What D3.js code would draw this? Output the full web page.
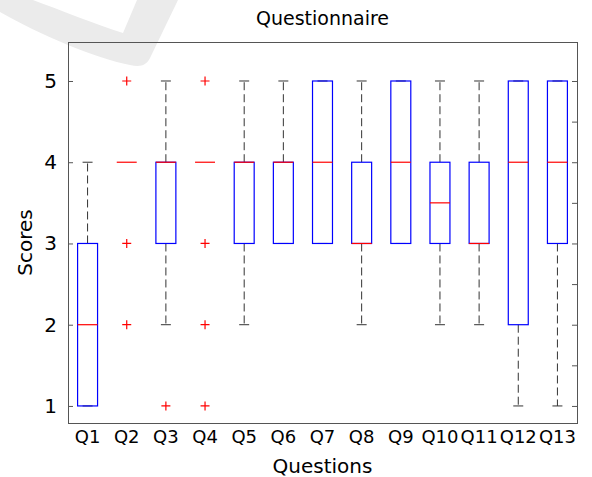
<!DOCTYPE html>
<html>
<head>
<meta charset="utf-8">
<script src="https://cdn.jsdelivr.net/npm/d3@7"></script>
<style>
  body { margin: 0; background: #fff; }
  text { font-family: "DejaVu Sans", sans-serif; fill: #000; }
</style>
</head>
<body>
<svg id="chart" width="592" height="477"></svg>
<script>
// box plot summary per question
const questions = ["Q1","Q2","Q3","Q4","Q5","Q6","Q7","Q8","Q9","Q10","Q11","Q12","Q13"];
const whiskerLow  = [1, 4, 2, 4, 2, 3, 3, 2, 3, 2, 2, 1, 1];
const boxLow      = [1, 4, 3, 4, 3, 3, 3, 3, 3, 3, 3, 2, 3];
const medians     = [2, 4, 4, 4, 4, 4, 4, 3, 4, 3.5, 3, 4, 4];
const boxHigh     = [3, 4, 4, 4, 4, 4, 5, 4, 5, 4, 4, 5, 5];
const whiskerHigh = [4, 4, 5, 4, 5, 5, 5, 5, 5, 5, 5, 5, 5];
const outliers    = [[], [5, 3, 2], [1], [5, 3, 2, 1], [], [], [], [], [], [], [], [], []];
const yTicks = [1, 2, 3, 4, 5];
const yMinorTicks = [1, 1.5, 2, 2.5, 3, 3.5, 4, 4.5, 5];

const margin = { top: 42, right: 15, bottom: 54, left: 68 };
const svg = d3.select("#chart");
const width = +svg.attr("width") - margin.left - margin.right;
const height = +svg.attr("height") - margin.top - margin.bottom;

const data = questions.map((q, i) => ({
    q: q, lo: whiskerLow[i], q1: boxLow[i], med: medians[i],
    q3: boxHigh[i], hi: whiskerHigh[i], out: outliers[i]
}));

// faint watermark stroke behind everything
svg.append("path")
    .attr("d", "M0,0 L33,0 C60,10 95,24 123,33 L137,0 L178,0 L150,58 C146,66 140,67 130,65 C95,58 40,35 0,12 Z")
    .attr("fill", "#ebebeb");

const g = svg.append("g")
    .attr("transform", "translate(" + margin.left + "," + margin.top + ")");

const x = d3.scaleBand().domain(questions).range([0, width]);
const y = d3.scaleLinear().domain([0.79, 5.48]).range([height, 0]);
const boxW = x.bandwidth() * 0.51;
const capW = boxW / 2;

// frame
g.append("rect")
    .attr("x", 0).attr("y", 0)
    .attr("width", width).attr("height", height)
    .attr("fill", "none")
    .attr("stroke", "#555")
    .attr("shape-rendering", "crispEdges");

// left axis
const yAxis = g.append("g")
    .call(d3.axisLeft(y).tickValues(yTicks).tickFormat(d3.format("d")).tickSizeInner(-5).tickSizeOuter(0).tickPadding(11));
yAxis.select(".domain").attr("stroke", "#555");
yAxis.selectAll(".tick line").attr("stroke", "#555");
yAxis.selectAll("text").style("font-family", "DejaVu Sans").style("font-size", "20px").attr("fill", "#000");

// right axis, ticks only
const yAxisR = g.append("g")
    .attr("transform", "translate(" + width + ",0)")
    .call(d3.axisRight(y).tickValues(yMinorTicks).tickFormat("").tickSizeInner(-5).tickSizeOuter(0));
yAxisR.select(".domain").attr("stroke", "#555");
yAxisR.selectAll(".tick line").attr("stroke", "#555");

// bottom axis, labels only
const xAxis = g.append("g")
    .attr("transform", "translate(0," + height + ")")
    .call(d3.axisBottom(x).tickSize(0).tickPadding(7));
xAxis.select(".domain").attr("stroke", "#555");
xAxis.selectAll("text").style("font-family", "DejaVu Sans").style("font-size", "18px").attr("fill", "#000");

// one group per question
const boxes = g.selectAll(".box")
    .data(data)
    .enter().append("g")
    .attr("class", "box")
    .attr("transform", d => "translate(" + (x(d.q) + x.bandwidth() / 2) + ",0)");

// whiskers
const withWhiskers = boxes.filter(d => d.hi > d.lo);
withWhiskers.filter(d => d.hi > d.q3).append("line")
    .attr("y1", d => y(d.q3)).attr("y2", d => y(d.hi))
    .attr("stroke", "#333").attr("stroke-dasharray", "8,4");
withWhiskers.filter(d => d.lo < d.q1).append("line")
    .attr("y1", d => y(d.q1)).attr("y2", d => y(d.lo))
    .attr("stroke", "#333").attr("stroke-dasharray", "8,4");
withWhiskers.append("line")
    .attr("x1", -capW / 2).attr("x2", capW / 2)
    .attr("y1", d => y(d.hi)).attr("y2", d => y(d.hi))
    .attr("stroke", "#333");
withWhiskers.append("line")
    .attr("x1", -capW / 2).attr("x2", capW / 2)
    .attr("y1", d => y(d.lo)).attr("y2", d => y(d.lo))
    .attr("stroke", "#333");

// boxes
boxes.append("rect")
    .attr("x", -boxW / 2)
    .attr("y", d => y(d.q3))
    .attr("width", boxW)
    .attr("height", d => y(d.q1) - y(d.q3))
    .attr("fill", "none")
    .attr("stroke", "#0000ff")
    .attr("stroke-width", 1.2);

// medians
boxes.append("line")
    .attr("x1", -boxW / 2).attr("x2", boxW / 2)
    .attr("y1", d => y(d.med)).attr("y2", d => y(d.med))
    .attr("stroke", "#ff0000")
    .attr("stroke-width", 1.2);

// outliers as '+'
boxes.selectAll(".out")
    .data(d => d.out)
    .enter().append("path")
    .attr("class", "out")
    .attr("d", "M-4.5,0H4.5M0,-4.5V4.5")
    .attr("transform", v => "translate(0," + y(v) + ")")
    .attr("stroke", "#ff0000")
    .attr("stroke-width", 1.2)
    .attr("fill", "none");

// title and axis labels
svg.append("text")
    .attr("x", margin.left + width / 2).attr("y", 25)
    .attr("text-anchor", "middle")
    .style("font-size", "19px")
    .text("Questionnaire");

svg.append("text")
    .attr("x", margin.left + width / 2).attr("y", 473)
    .attr("text-anchor", "middle")
    .style("font-size", "20px")
    .text("Questions");

svg.append("text")
    .attr("transform", "translate(32," + (margin.top + height / 2 + 10) + ") rotate(-90)")
    .attr("text-anchor", "middle")
    .style("font-size", "20px")
    .text("Scores");
</script>
</body>
</html>
